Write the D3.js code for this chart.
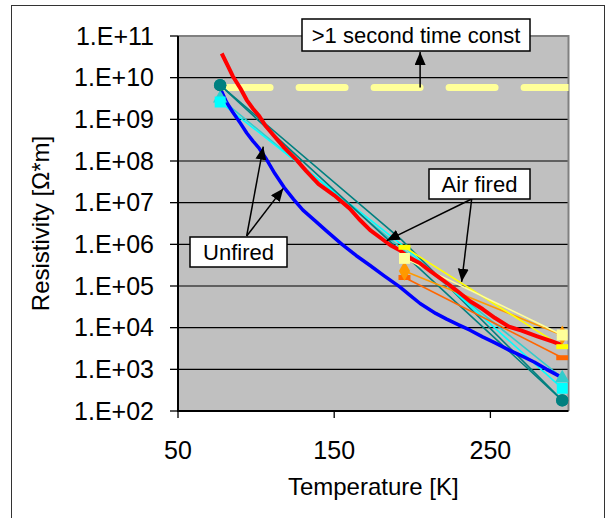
<!DOCTYPE html>
<html>
<head>
<meta charset="utf-8">
<script src="https://cdn.jsdelivr.net/npm/d3@7"></script>
<style>
  body { margin: 0; background: #fff; }
  svg { display: block; }
  text { font-family: "Liberation Sans", Arial, sans-serif; fill: #000; }
</style>
</head>
<body>
<svg id="chart" width="605" height="518"></svg>
<script>
// ---- data ----
var redTemp = [78, 82, 85, 90, 94, 98, 102, 106, 111, 118, 126, 132, 140, 150, 160, 166, 173, 180, 186, 192, 198, 205, 212, 220, 228, 237, 245, 253, 262, 270, 280, 290, 296];
var redRes  = [3.8e10, 1.9e10, 1.1e10, 5.5e9, 2.9e9, 1.8e9, 1.2e9, 7.0e8, 4.2e8, 2.1e8, 1.05e8, 5.8e7, 2.8e7, 1.5e7, 7.2e6, 4.0e6, 2.2e6, 1.4e6, 9.5e5, 7.2e5, 4.8e5, 3.5e5, 2.2e5, 1.35e5, 8.0e4, 4.3e4, 2.8e4, 1.7e4, 1.05e4, 8.5e3, 6.2e3, 4.6e3, 3.8e3];

var blueTemp = [77, 81, 85, 90, 94, 98, 102, 106, 112, 118, 124, 130, 138, 145, 155, 164, 173, 182, 192, 198, 205, 215, 222, 230, 237, 245, 253, 262, 270, 278, 286, 295];
var blueRes  = [5.6e9, 2.6e9, 1.5e9, 8.0e8, 4.7e8, 3.0e8, 2.0e8, 1.2e8, 5.0e7, 2.3e7, 1.2e7, 6.6e6, 3.6e6, 2.1e6, 1.0e6, 5.4e5, 3.1e5, 1.75e5, 9.5e4, 6.2e4, 3.8e4, 2.2e4, 1.6e4, 1.15e4, 8.7e3, 6.0e3, 4.3e3, 2.9e3, 2.1e3, 1.5e3, 1.0e3, 6.6e2];

// unfired samples, measured at three temperatures
var unfiredTemp = [77, 193, 296];
var unfiredA = [6.6e9, 6.6e5, 1.8e2];
var unfiredB = [6.6e9, 1.3e6, 1.8e2];
var unfiredC = [2.6e9, 1.0e6, 3.5e2];
var unfiredD = [3.2e9, 8.0e5, 6.2e2];

// air fired samples, two temperatures
var airTemp = [195, 296];
var airA = [8.5e5, 3.5e3];
var airB = [4.6e5, 6.7e3];
var airC = [2.3e5, 6.6e3];
var airD = [1.6e5, 1.9e3];

var timeConstRes = 5.8e9;
var timeConstTemp = [79.5, 300];

var xTicks = [50, 150, 250];
var yTicks = [1e2, 1e3, 1e4, 1e5, 1e6, 1e7, 1e8, 1e9, 1e10, 1e11];

// ---- layout ----
var svg = d3.select("#chart");
var pLeft = 178, pRight = 568.5, pTop = 36, pBottom = 411;

var x = d3.scaleLinear().domain([50, 300]).range([pLeft, pRight]);
var y = d3.scaleLog().domain([1e2, 1e11]).range([pBottom, pTop]);

// outer frame
svg.append("rect").attr("x", 11.5).attr("y", 5.5).attr("width", 593).attr("height", 540)
    .attr("fill", "#fff").attr("stroke", "#333").attr("stroke-width", 1);

var defs = svg.append("defs");
defs.append("clipPath").attr("id", "plotclip")
    .append("rect").attr("x", pLeft).attr("y", pTop).attr("width", pRight - pLeft).attr("height", pBottom - pTop);

var head = defs.append("marker")
    .attr("id", "head").attr("markerUnits", "userSpaceOnUse")
    .attr("markerWidth", 14).attr("markerHeight", 12)
    .attr("refX", 13).attr("refY", 5.5).attr("orient", "auto");
head.append("path").attr("d", "M0,0 L13,5.5 L0,11 Z").attr("fill", "#000");

// plot background
svg.append("rect").attr("x", pLeft).attr("y", pTop).attr("width", pRight - pLeft).attr("height", pBottom - pTop)
    .attr("fill", "#c0c0c0");

// gridlines
svg.append("g").selectAll("line").data(yTicks.slice(1, -1)).enter().append("line")
    .attr("x1", pLeft).attr("x2", pRight)
    .attr("y1", d => y(d)).attr("y2", d => y(d))
    .attr("stroke", "#000").attr("stroke-width", 1.2);

// top / right border of plot area
svg.append("path").attr("d", "M" + pLeft + "," + pTop + "H" + pRight + "V" + pBottom)
    .attr("fill", "none").attr("stroke", "#808080").attr("stroke-width", 2);

var plot = svg.append("g").attr("clip-path", "url(#plotclip)");
var line = d3.line().x(d => x(d[0])).y(d => y(d[1]));
var zip = (ts, vs) => ts.map((t, i) => [t, vs[i]]);

// dashed time-constant limit
plot.append("path").datum(zip(timeConstTemp, [timeConstRes, timeConstRes]))
    .attr("d", line).attr("fill", "none").attr("stroke", "#ffff99")
    .attr("stroke-width", 7).attr("stroke-linecap", "round").attr("stroke-dasharray", "46,29");

// sample series (unfired ones show markers only at the end points)
var samples = [
  { t: unfiredTemp, v: unfiredB, color: "#008080", shape: "circle", ends: true },
  { t: unfiredTemp, v: unfiredD, color: "#33cccc", shape: "triangle", ends: true },
  { t: unfiredTemp, v: unfiredC, color: "#00ffff", shape: "square", ends: true },
  { t: unfiredTemp, v: unfiredA, color: "#008080", shape: "circle", ends: true },
  { t: airTemp, v: airD, color: "#ff6600", shape: "dash" },
  { t: airTemp, v: airC, color: "#ff9900", shape: "diamond" },
  { t: airTemp, v: airA, color: "#ffff00", shape: "dash" },
  { t: airTemp, v: airB, color: "#ffff99", shape: "square" }
];

samples.forEach(s => {
  plot.append("path").datum(zip(s.t, s.v)).attr("d", line)
      .attr("fill", "none").attr("stroke", s.color).attr("stroke-width", 1.6);
});

// red and blue curves
plot.append("path").datum(zip(redTemp, redRes)).attr("d", line)
    .attr("fill", "none").attr("stroke", "#ff0000").attr("stroke-width", 4).attr("stroke-linejoin", "round");
plot.append("path").datum(zip(blueTemp, blueRes)).attr("d", line)
    .attr("fill", "none").attr("stroke", "#0000ff").attr("stroke-width", 3.5).attr("stroke-linejoin", "round");

var shapes = {
  circle: d3.symbol().type(d3.symbolCircle).size(120),
  triangle: d3.symbol().type(d3.symbolTriangle).size(90),
  square: d3.symbol().type(d3.symbolSquare).size(120),
  diamond: d3.symbol().type(d3.symbolDiamond).size(110)
};
samples.forEach(s => {
  var g = plot.append("g");
  var pts = zip(s.t, s.v);
  if (s.ends) pts = [pts[0], pts[pts.length - 1]];
  pts.forEach(p => {
    if (s.shape === "dash") {
      g.append("rect").attr("x", x(p[0]) - 6).attr("y", y(p[1]) - 2.5)
        .attr("width", 12).attr("height", 5).attr("fill", s.color);
    } else {
      g.append("path").attr("d", shapes[s.shape]())
        .attr("transform", "translate(" + x(p[0]) + "," + y(p[1]) + ")")
        .attr("fill", s.color);
    }
  });
});

// axes lines
svg.append("line").attr("x1", pLeft).attr("x2", pLeft).attr("y1", pTop).attr("y2", pBottom)
    .attr("stroke", "#000").attr("stroke-width", 2);
svg.append("line").attr("x1", pLeft - 1).attr("x2", pRight).attr("y1", pBottom).attr("y2", pBottom)
    .attr("stroke", "#000").attr("stroke-width", 2);

// y ticks and labels
var fmt = d => "1.E+" + String(Math.round(Math.log10(d))).padStart(2, "0");
var yt = svg.append("g").selectAll("g").data(yTicks).enter().append("g");
yt.append("line").attr("x1", pLeft - 8).attr("x2", pLeft).attr("y1", d => y(d)).attr("y2", d => y(d))
    .attr("stroke", "#000").attr("stroke-width", 1.3);
yt.append("text").attr("x", 154).attr("y", d => y(d)).attr("dy", "0.35em")
    .attr("text-anchor", "end").style("font-size", "25px").text(fmt);

// x ticks and labels
var xt = svg.append("g").selectAll("g").data(xTicks).enter().append("g");
xt.append("line").attr("x1", d => x(d)).attr("x2", d => x(d)).attr("y1", pBottom).attr("y2", pBottom + 7)
    .attr("stroke", "#000").attr("stroke-width", 1.3);
xt.append("text").attr("x", d => x(d)).attr("y", 459)
    .attr("text-anchor", "middle").style("font-size", "25px").text(d => d);

// axis titles
svg.append("text").attr("x", x(175)).attr("y", 495).attr("text-anchor", "middle")
    .style("font-size", "24px").text("Temperature [K]");
svg.append("text").attr("transform", "translate(49," + ((pTop + pBottom) / 2) + ") rotate(-90)")
    .attr("text-anchor", "middle").style("font-size", "24px").text("Resistivity [Ω*m]");

// annotations
function box(x0, y0, w, h, label) {
  svg.append("rect").attr("x", x0).attr("y", y0).attr("width", w).attr("height", h)
      .attr("fill", "#fff").attr("stroke", "#000").attr("stroke-width", 1.5);
  svg.append("text").attr("x", x0 + w / 2).attr("y", y0 + h / 2).attr("dy", "0.36em")
      .attr("text-anchor", "middle").style("font-size", "22px").text(label);
}
function pointer(x1, y1, x2, y2) {
  svg.append("line").attr("x1", x1).attr("y1", y1).attr("x2", x2).attr("y2", y2)
      .attr("stroke", "#000").attr("stroke-width", 1.5).attr("marker-end", "url(#head)");
}

pointer(x(205), y(timeConstRes), x(205), 52);
box(302, 19, 228, 32, ">1 second time const");

pointer(246.7, 236, x(104.6), y(2.2e8));
pointer(246.7, 236, x(117.4), y(2.2e7));
box(190, 237, 97, 30, "Unfired");

pointer(471.7, 199, x(183.6), y(1.23e6));
pointer(471.7, 199, x(231.6), y(1.26e5));
box(429, 169, 101, 30, "Air fired");
</script>
</body>
</html>
